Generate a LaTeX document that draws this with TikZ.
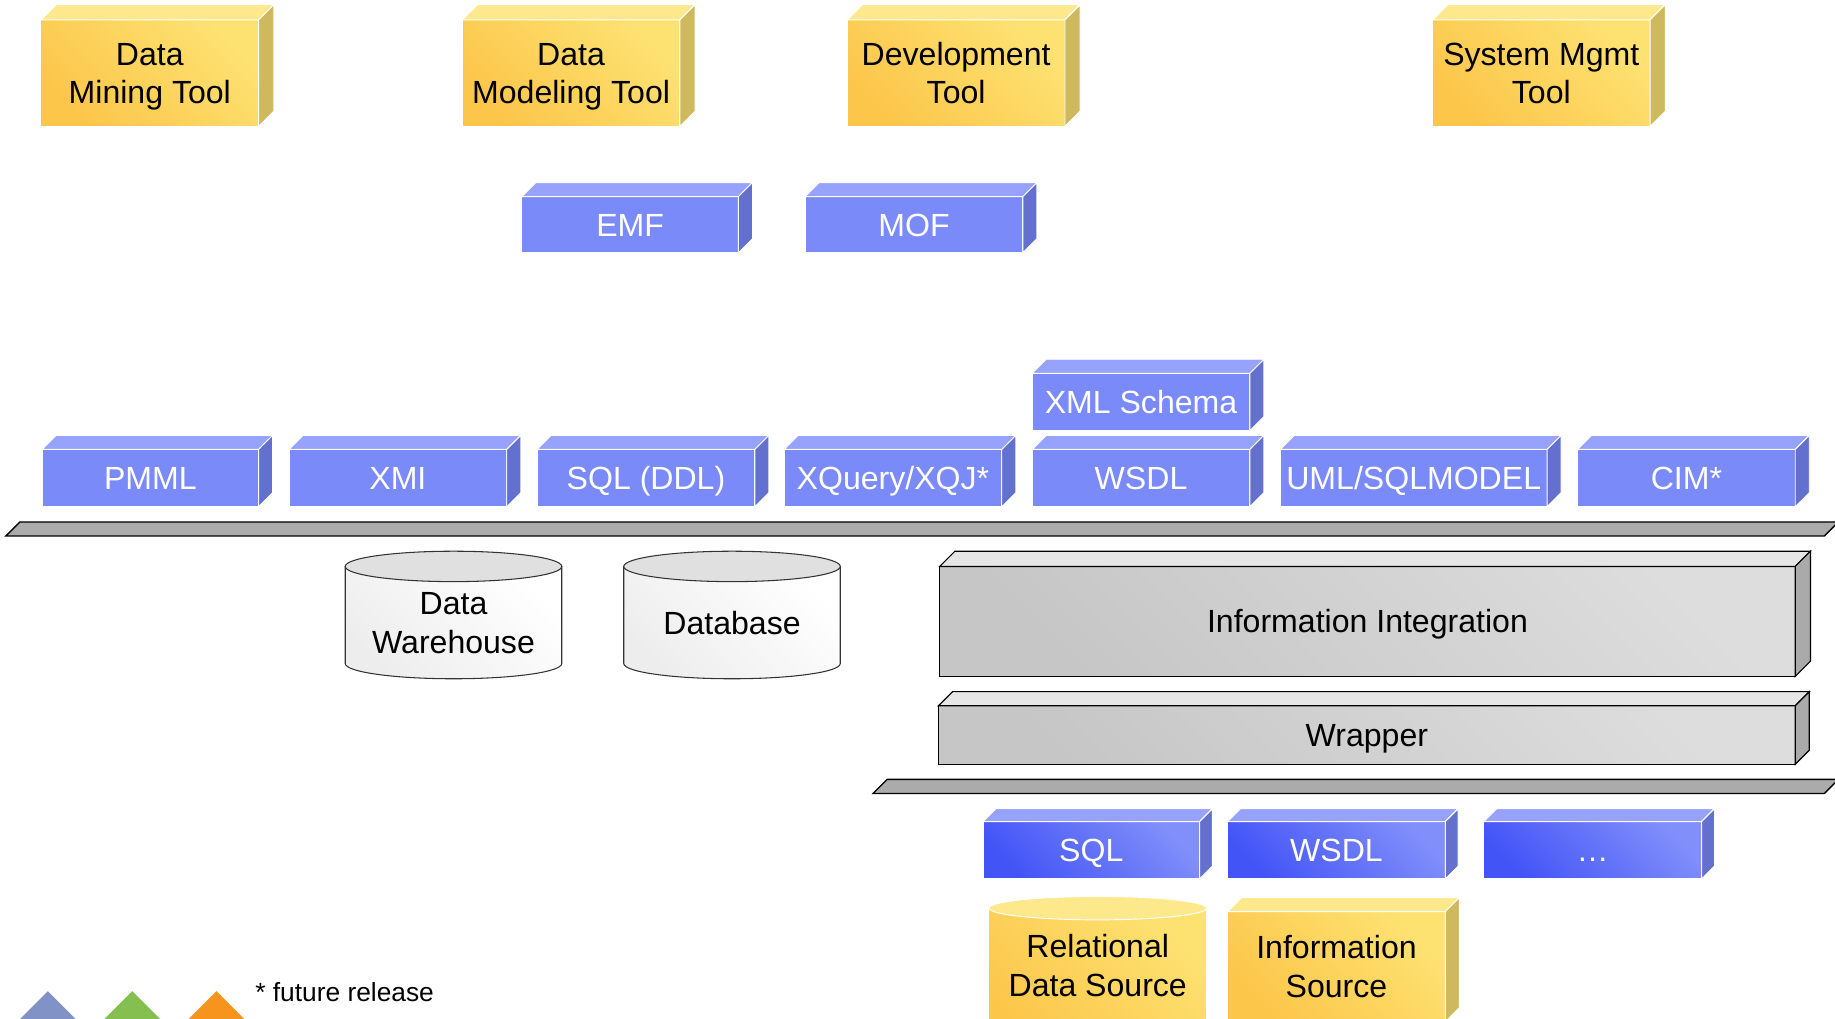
\documentclass[tikz,border=0pt]{standalone}
\usepackage{fontspec}
\setmainfont{Liberation Sans}

\definecolor{yelLo}{HTML}{FCC64A}
\definecolor{yelHi}{HTML}{FDE272}
\definecolor{yelTop}{HTML}{FDE88C}
\definecolor{yelSide}{HTML}{CFB95E}
\definecolor{bluFront}{HTML}{7A8AF9}
\definecolor{bluTop}{HTML}{96A2FB}
\definecolor{bluSide}{HTML}{6470CD}
\definecolor{bluLo}{HTML}{4354F7}
\definecolor{bluHi}{HTML}{808FF9}
\definecolor{grayLo}{HTML}{C6C6C6}
\definecolor{grayHi}{HTML}{DDDDDD}
\definecolor{grayTop}{HTML}{E6E6E6}
\definecolor{graySide}{HTML}{AAAAAA}
\definecolor{barGray}{HTML}{ABABAB}
\definecolor{triBlue}{HTML}{8193C6}
\definecolor{triGreen}{HTML}{84BF4F}
\definecolor{triOrange}{HTML}{F7941D}

% one line of label text, with the height of a capital and no depth,
% so that every label sits centred on its capitals
\newcommand\capln[1]{\raisebox{0pt}[0.716em][0pt]{#1}}

% A box drawn as a front face (named node) with a top face and a side face.
% #1 name, #2 style family, #3 x1, #4 y1, #5 x2, #6 y2, #7 depth, #8 text
\newcommand\blockbox[8]{%
  \node[#2front, minimum width=#5-#3, minimum height=#6-#4] (#1) at ({(#3+#5)/2},{(#4+#6)/2}) {#8};
  \path[#2top] (#1.north west) -- ++(#7,-#7) -- ([shift={(#7,-#7)}]#1.north east) -- (#1.north east) -- cycle;
  \path[#2side] (#1.north east) -- ++(#7,-#7) -- ([shift={(#7,-#7)}]#1.south east) -- (#1.south east) -- cycle;
}

\begin{document}
\begin{tikzpicture}[x=1pt,y=-1pt,
  txt/.style={font=\fontsize{27.4}{33}\selectfont, align=center},
  face/.style={inner sep=0pt, outer sep=0pt},
  edge/.style={draw=white, line width=0.8pt},
  yfront/.style={face, txt, edge, bottom color=yelLo, top color=yelHi, shading angle=-45, text=black},
  ytop/.style={edge, fill=yelTop},
  yside/.style={edge, fill=yelSide},
  bfront/.style={face, txt, edge, fill=bluFront, text=white},
  btop/.style={edge, fill=bluTop},
  bside/.style={edge, fill=bluSide},
  dfront/.style={face, txt, edge, bottom color=bluLo, top color=bluHi, shading angle=-45, text=white},
  dtop/.style={btop},
  dside/.style={bside},
  gfront/.style={face, txt, draw=black, line width=1pt, bottom color=grayLo, top color=grayHi, shading angle=-45},
  gtop/.style={draw=black, line width=1pt, fill=grayTop},
  gside/.style={draw=black, line width=1pt, fill=graySide},
  bar/.style={draw=black, line width=1.2pt, fill=barGray},
  cylbody/.style={draw=black!80, line width=0.9pt, bottom color=black!7, top color=white, shading angle=-45},
  cyltop/.style={draw=black!80, line width=0.9pt, fill=black!12},
  ycylbody/.style={edge, bottom color=yelLo, top color=yelHi, shading angle=-45},
  ycyltop/.style={edge, fill=yelTop},
]
\clip (0,0) rectangle (1568,870);
\fill[white] (0,0) rectangle (1568,870);

% tools
\blockbox{dmt}{y}{35}{17}{221}{108}{13}{\capln{Data}\\\capln{Mining Tool}}
\blockbox{dmod}{y}{395}{17}{581}{108}{13}{\capln{Data}\\\capln{Modeling Tool}}
\blockbox{dev}{y}{724}{17}{910}{108}{13}{\capln{Development}\\\capln{Tool}}
\blockbox{sys}{y}{1224}{17}{1410}{108}{13}{\capln{System Mgmt}\\\capln{Tool}}

% metamodels
\blockbox{emf}{b}{446}{168}{631}{216}{12}{\capln{EMF}}
\blockbox{mof}{b}{688}{168}{874}{216}{12}{\capln{MOF}}

% standards
\blockbox{xsd}{b}{882}{319}{1068}{368}{12}{\capln{XML Schema}}
\blockbox{pmml}{b}{36}{384}{221}{433}{12}{\capln{PMML}}
\blockbox{xmi}{b}{247}{384}{433}{433}{12}{\capln{XMI}}
\blockbox{ddl}{b}{459}{384}{645}{433}{12}{\capln{SQL (DDL)}}
\blockbox{xq}{b}{670}{384}{856}{433}{12}{\capln{XQuery/XQJ*}}
\blockbox{wsdl}{b}{882}{384}{1068}{433}{12}{\capln{WSDL}}
\blockbox{uml}{b}{1094}{384}{1322}{433}{12}{\capln{UML/SQLMODEL}}
\blockbox{cim}{b}{1348}{384}{1534}{433}{12}{\capln{CIM*}}

% upper platform
\path[bar] (5,458) -- (17,446) -- (1571,446) -- (1559,458) -- cycle;

% stores
\path[cylbody] (295,484) -- (295,567) arc[start angle=180, end angle=0, x radius=92.5, y radius=13] -- (480,484) -- cycle;
\path[cyltop] (387.5,484) ellipse [x radius=92.5, y radius=13];
\node[txt] (dw) at (387.5,532) {\capln{Data}\\\capln{Warehouse}};

\path[cylbody] (533,484) -- (533,567) arc[start angle=180, end angle=0, x radius=92.5, y radius=13] -- (718,484) -- cycle;
\path[cyltop] (625.5,484) ellipse [x radius=92.5, y radius=13];
\node[txt] (db) at (625.5,532) {\capln{Database}};

% integration layers
\blockbox{ii}{g}{803}{484}{1534}{578}{13}{\capln{Information Integration}}
\blockbox{wrap}{g}{802}{603}{1534}{653}{12}{\capln{Wrapper}}

% lower platform
\path[bar] (746,678) -- (758,666) -- (1571,666) -- (1559,678) -- cycle;

% access interfaces
\blockbox{sql}{d}{840}{702}{1025}{751}{11}{\capln{SQL}}
\blockbox{wsdlb}{d}{1049}{702}{1235}{751}{11}{\capln{WSDL}}
\blockbox{more}{d}{1268}{702}{1454}{751}{11}{\capln{…}}

% sources
\path[ycylbody] (845,776) -- (845,900) -- (1031,900) -- (1031,776) -- cycle;
\path[ycyltop] (938,776) ellipse [x radius=93, y radius=10];
\node[txt] (rds) at (938,825) {\capln{Relational}\\\capln{Data Source}};
\blockbox{isrc}{y}{1049}{779}{1235}{873}{12}{\capln{Information}\\\capln{Source}}

% legend
\fill[triBlue] (41,847) -- (1,887) -- (81,887) -- cycle;
\fill[triGreen] (113,847) -- (73,887) -- (153,887) -- cycle;
\fill[triOrange] (185,847) -- (145,887) -- (225,887) -- cycle;
\node[anchor=west, inner sep=0pt, font=\fontsize{22.5}{27}\selectfont] (note) at (218,848) {\capln{* future release}};
\end{tikzpicture}
\end{document}
